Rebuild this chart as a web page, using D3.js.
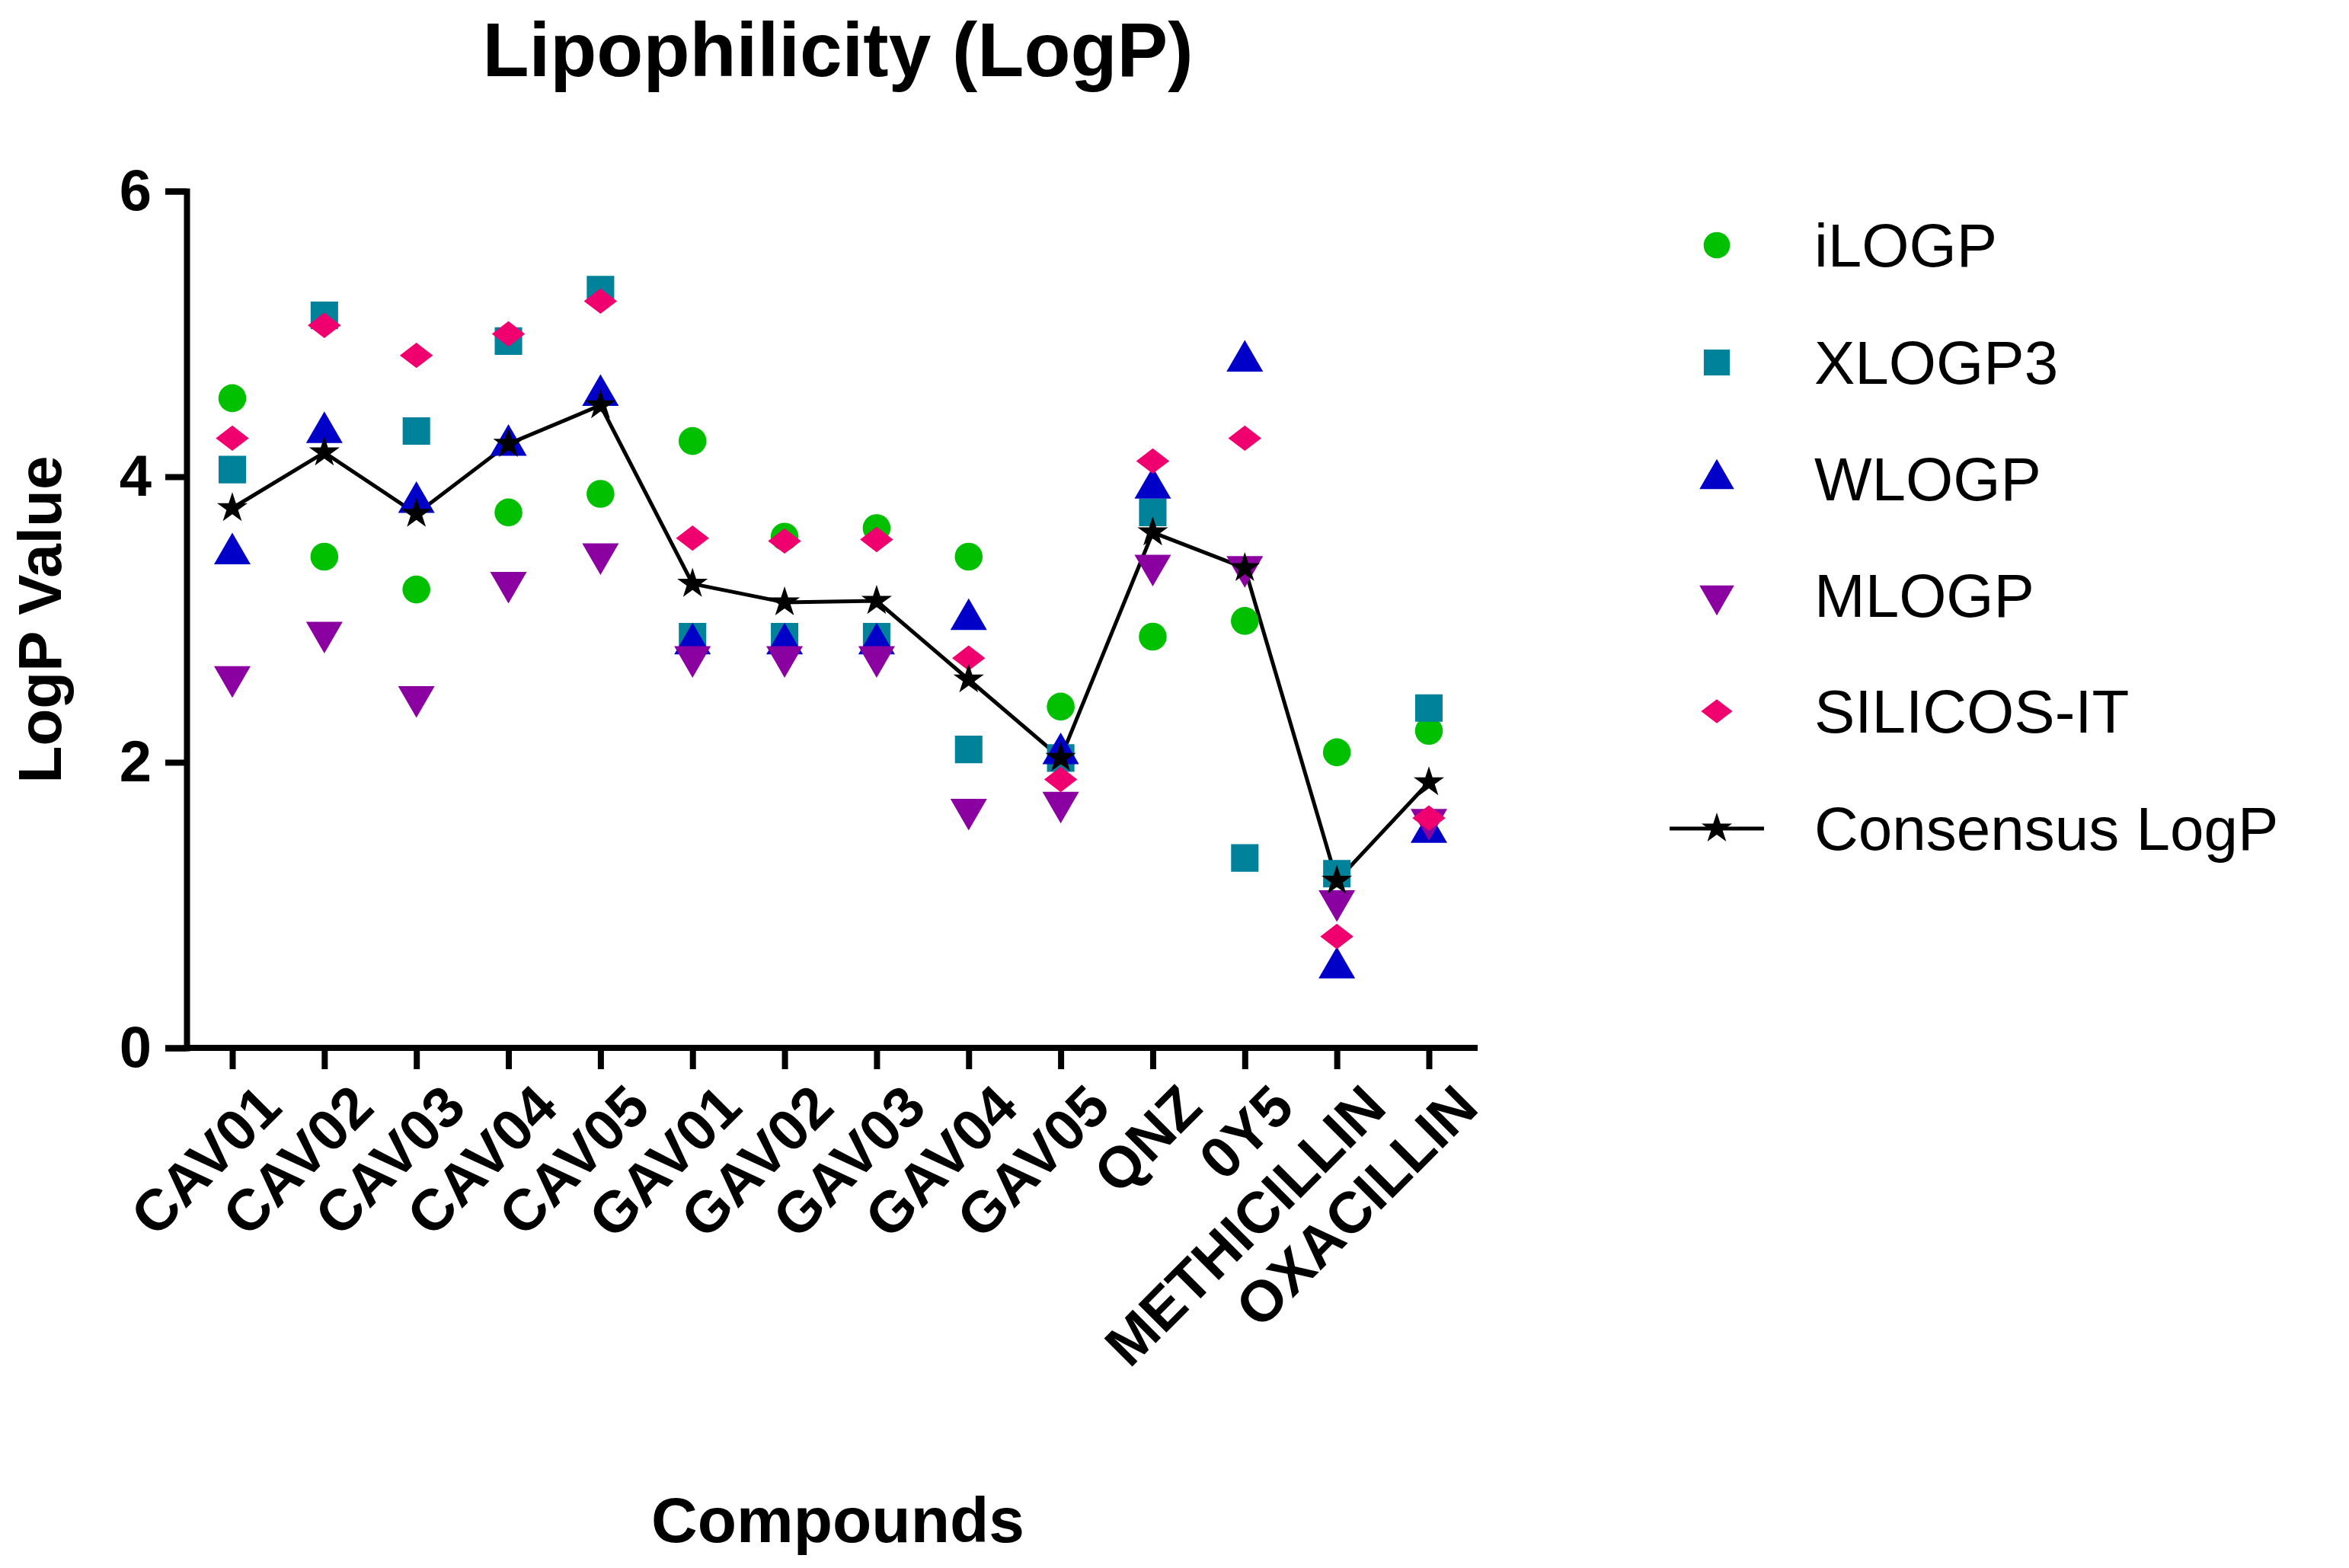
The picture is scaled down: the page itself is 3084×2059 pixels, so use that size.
<!DOCTYPE html>
<html>
<head>
<meta charset="utf-8">
<script src="https://d3js.org/d3.v7.min.js"></script>
<style>
body { margin: 0; background: #fff; }
text { font-family: "Liberation Sans", Arial, sans-serif; }
</style>
</head>
<body>
<svg width="3084" height="2059"></svg>
<script>
var compounds = ["CAV01","CAV02","CAV03","CAV04","CAV05","GAV01","GAV02","GAV03","GAV04","GAV05","QNZ","0Y5","METHICILLIN","OXACILLIN"];
var iLOGP     = [4.55,3.44,3.21,3.75,3.88,4.25,3.58,3.64,3.44,2.39,2.88,2.99,2.07,2.22];
var XLOGP3    = [4.05,5.13,4.32,4.95,5.31,2.88,2.88,2.88,2.09,2.03,3.75,1.33,1.22,2.38];
var WLOGP     = [3.46,4.31,3.82,4.22,4.57,2.83,2.83,2.83,3.00,2.06,3.92,4.81,0.56,1.51];
var MLOGP     = [2.60,2.91,2.46,3.26,3.46,2.74,2.74,2.74,1.67,1.72,3.38,3.37,1.03,1.60];
var SILICOS   = [4.27,5.06,4.85,5.00,5.23,3.57,3.55,3.56,2.73,1.88,4.11,4.27,0.78,1.61];
var consensus = [3.78,4.17,3.74,4.23,4.50,3.25,3.12,3.13,2.58,2.03,3.61,3.36,1.17,1.86];
var yTicks = [0,2,4,6];

var series = [
  {name:"iLOGP", values:iLOGP, color:"#00c000", shape:d3.symbolCircle, size:1050, tf:""},
  {name:"XLOGP3", values:XLOGP3, color:"#00829b", shape:d3.symbolSquare, size:1300, tf:""},
  {name:"WLOGP", values:WLOGP, color:"#0000c8", shape:d3.symbolTriangle, size:1000, tf:""},
  {name:"MLOGP", values:MLOGP, color:"#8b00a0", shape:d3.symbolTriangle, size:1000, tf:" rotate(180)"},
  {name:"SILICOS-IT", values:SILICOS, color:"#f0006e", shape:d3.symbolSquare, size:560, tf:" scale(1.3,1) rotate(45)"}
];

var svg = d3.select("svg");
var margin = {left:245, top:251, right:1940, bottom:1376};

var x = d3.scalePoint().domain(compounds).range([305, 1876]);
var y = d3.scaleLinear().domain([0,6]).range([margin.bottom, margin.top]);

svg.append("text").attr("x",1100).attr("y",100).attr("text-anchor","middle")
  .style("font-size","100px").style("font-weight","bold").text("Lipophilicity (LogP)");

// axes
var gy = svg.append("g").attr("transform","translate(" + margin.left + ",0)")
  .call(d3.axisLeft(y).tickValues(yTicks).tickFormat(d3.format("d")).tickSize(28).tickPadding(18));
var gx = svg.append("g").attr("transform","translate(0," + margin.bottom + ")")
  .call(d3.axisBottom(x).tickSize(28).tickSizeOuter(0).tickPadding(10));
gx.select(".domain").attr("d","M" + (margin.left-4) + ",0H" + margin.right);
[gy, gx].forEach(function(g){
  g.selectAll(".domain, .tick line").attr("stroke","#000").attr("stroke-width",8);
  g.selectAll("text").style("font-size","76px").style("font-weight","bold")
    .style("font-family","'Liberation Sans', Arial, sans-serif").attr("fill","#000");
});
gx.selectAll("text").attr("text-anchor","end").attr("dy","0.35em")
  .attr("transform","translate(22,36) rotate(-45)");

svg.append("text").attr("transform","translate(80," + ((margin.top+margin.bottom)/2) + ") rotate(-90)")
  .attr("text-anchor","middle").style("font-size","80px").style("font-weight","bold").text("LogP Value");
svg.append("text").attr("x",1100).attr("y",2025).attr("text-anchor","middle")
  .style("font-size","84px").style("font-weight","bold").text("Compounds");

// consensus line
var line = d3.line().x(function(d,i){return x(compounds[i]);}).y(function(d){return y(d);});
svg.append("path").datum(consensus).attr("d",line).attr("fill","none").attr("stroke","#000").attr("stroke-width",5);

series.forEach(function(s){
  svg.append("g").selectAll("path").data(s.values).enter().append("path")
    .attr("d", d3.symbol().type(s.shape).size(s.size))
    .attr("fill", s.color)
    .attr("transform", function(d,i){ return "translate(" + x(compounds[i]) + "," + y(d) + ")" + s.tf; });
});
svg.append("g").selectAll("path").data(consensus).enter().append("path")
  .attr("d", d3.symbol().type(d3.symbolStar).size(500)).attr("fill","#000")
  .attr("transform", function(d,i){ return "translate(" + x(compounds[i]) + "," + y(d) + ")"; });

// legend
var legendY = [322,476,629,782,934,1088];
var leg = svg.append("g");
series.forEach(function(s,i){
  leg.append("path").attr("d", d3.symbol().type(s.shape).size(s.size*0.9)).attr("fill", s.color)
    .attr("transform","translate(2254," + legendY[i] + ")" + s.tf);
  leg.append("text").attr("x",2382).attr("y",legendY[i]).attr("dy","0.35em").style("font-size","80px").text(s.name);
});
leg.append("line").attr("x1",2192).attr("x2",2316).attr("y1",legendY[5]).attr("y2",legendY[5]).attr("stroke","#000").attr("stroke-width",5);
leg.append("path").attr("d", d3.symbol().type(d3.symbolStar).size(500)).attr("fill","#000")
  .attr("transform","translate(2254," + legendY[5] + ")");
leg.append("text").attr("x",2382).attr("y",legendY[5]).attr("dy","0.35em").style("font-size","80px").text("Consensus LogP");
</script>
</body>
</html>
